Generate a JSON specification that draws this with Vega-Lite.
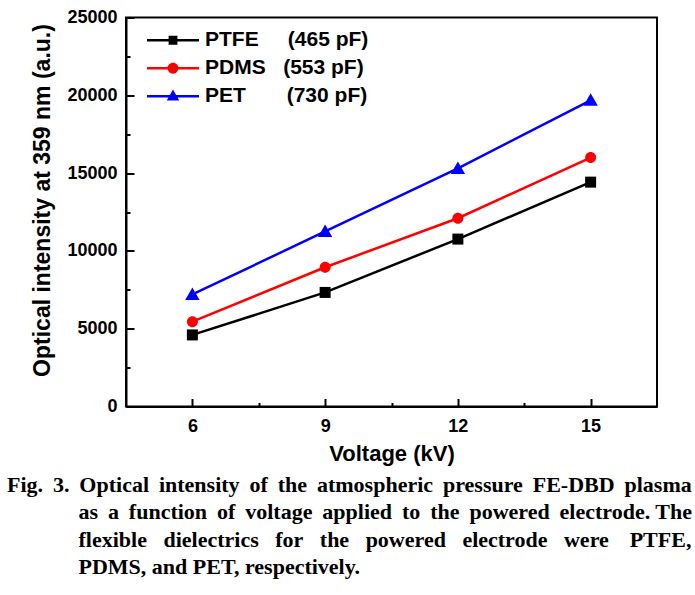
{
  "$schema": "https://vega.github.io/schema/vega-lite/v6.json",
  "width": 531,
  "height": 389,
  "autosize": {"type": "none"},
  "padding": {"left": 126, "top": 17.5, "right": 38, "bottom": 188.5},
  "background": "white",
  "config": {
    "view": {"stroke": "black", "strokeWidth": 2},
    "font": "Liberation Sans",
    "axis": {
      "grid": false,
      "domainColor": "black",
      "domainWidth": 2,
      "tickColor": "black",
      "tickWidth": 2,
      "labelFont": "Liberation Sans",
      "labelFontSize": 18,
      "labelFontWeight": "bold",
      "labelColor": "black",
      "titleFont": "Liberation Sans",
      "titleFontWeight": "bold",
      "titleColor": "black"
    },
    "legend": {
      "title": null,
      "orient": "none",
      "legendX": 21,
      "legendY": 9,
      "labelFont": "Liberation Sans",
      "labelFontSize": 21,
      "labelFontWeight": "bold",
      "labelColor": "black",
      "labelLimit": 400,
      "symbolSize": 2704,
      "symbolOpacity": 1,
      "symbolStrokeWidth": 0,
      "labelOffset": 6,
      "clipHeight": 27.5,
      "rowPadding": 0
    }
  },
  "title": {
    "text": [
      "Fig. \u20093. \u2009Optical \u2009intensity \u2009of \u2009the \u2009atmospheric \u2009pressure \u2009FE-DBD \u2009plasma",
      "\u200b\u00a0\u00a0\u00a0\u00a0\u00a0\u00a0\u00a0\u00a0\u00a0\u00a0\u00a0\u00a0\u00a0as \u2009a \u2009function \u2009of \u2009voltage \u2009applied \u2009to \u2009the \u2009powered \u2009electrode. The",
      "\u200b\u00a0\u00a0\u00a0\u00a0\u00a0\u00a0\u00a0\u00a0\u00a0\u00a0\u00a0\u00a0\u00a0flexible\u00a0\u00a0\u00a0dielectrics\u00a0\u00a0\u00a0for\u00a0\u00a0\u00a0the\u00a0\u00a0\u00a0powered\u00a0\u00a0\u00a0electrode\u00a0\u00a0\u00a0were\u00a0\u00a0\u00a0\u2009PTFE,",
      "\u200b\u00a0\u00a0\u00a0\u00a0\u00a0\u00a0\u00a0\u00a0\u00a0\u00a0\u00a0\u00a0\u00a0PDMS, and PET, respectively."
    ],
    "orient": "bottom",
    "anchor": "start",
    "frame": "group",
    "dx": -119,
    "offset": 10,
    "font": "Liberation Serif",
    "fontSize": 22,
    "fontWeight": "bold",
    "color": "black",
    "lineHeight": 27.5
  },
  "data": {
    "values": [
      {"series": "PTFE", "voltage": 6, "intensity": 4600},
      {"series": "PTFE", "voltage": 9, "intensity": 7330},
      {"series": "PTFE", "voltage": 12, "intensity": 10760},
      {"series": "PTFE", "voltage": 15, "intensity": 14420},
      {"series": "PDMS", "voltage": 6, "intensity": 5450},
      {"series": "PDMS", "voltage": 9, "intensity": 8950},
      {"series": "PDMS", "voltage": 12, "intensity": 12100},
      {"series": "PDMS", "voltage": 15, "intensity": 16000},
      {"series": "PET", "voltage": 6, "intensity": 7200},
      {"series": "PET", "voltage": 9, "intensity": 11250},
      {"series": "PET", "voltage": 12, "intensity": 15300},
      {"series": "PET", "voltage": 15, "intensity": 19680}
    ]
  },
  "encoding": {
    "x": {
      "field": "voltage",
      "type": "quantitative",
      "scale": {"domain": [4.5, 16.5], "nice": false, "zero": false},
      "axis": {
        "values": [6, 7.5, 9, 10.5, 12, 13.5, 15],
        "labelExpr": "datum.value % 3 === 0 ? datum.label : ''",
        "tickSize": {"condition": {"test": "datum.value % 3 === 0", "value": -8}, "value": -4},
        "labelPadding": 19,
        "title": "Voltage (kV)",
        "titleFontSize": 22,
        "titlePadding": 8
      }
    },
    "y": {
      "field": "intensity",
      "type": "quantitative",
      "scale": {"domain": [0, 25000], "nice": false},
      "axis": {
        "values": [0, 2500, 5000, 7500, 10000, 12500, 15000, 17500, 20000, 22500, 25000],
        "labelExpr": "datum.value % 5000 === 0 ? datum.value : ''",
        "tickSize": {"condition": {"test": "datum.value % 5000 === 0", "value": -8}, "value": -4},
        "labelPadding": 17,
        "title": "Optical intensity at 359 nm (a.u.)",
        "titleFontSize": 23,
        "titlePadding": 12,
        "titleY": 182.5
      }
    }
  },
  "layer": [
    {
      "mark": {"type": "line", "strokeWidth": 2.5},
      "encoding": {
        "color": {
          "field": "series",
          "type": "nominal",
          "scale": {"domain": ["PTFE", "PDMS", "PET"], "range": ["#000000", "#ff0000", "#0000ff"]},
          "legend": null
        }
      }
    },
    {
      "mark": {"type": "point", "filled": true, "opacity": 1, "size": 400},
      "encoding": {
        "color": {
          "field": "series",
          "type": "nominal",
          "legend": null
        },
        "shape": {
          "field": "series",
          "type": "nominal",
          "scale": {
            "domain": ["PTFE", "PDMS", "PET"],
            "range": [
              "M-0.55,-0.55H0.55V0.55H-0.55Z",
              "M-0.55,0A0.55,0.55 0 1,1 0.55,0A0.55,0.55 0 1,1 -0.55,0Z",
              "M0,-0.7L0.72,0.55H-0.72Z"
            ]
          },
          "legend": null
        }
      }
    },
    {
      "mark": {"type": "point", "filled": true, "opacity": 0, "color": {"expr": "scale('color', datum.value)"}},
      "encoding": {
        "shape": {
          "field": "series",
          "type": "nominal",
          "scale": {
            "domain": ["PTFE", "PDMS", "PET"],
            "range": [
              "M-1,-0.05H1V0.05H-1Z M-0.17,-0.17H0.17V0.17H-0.17Z",
              "M-1,-0.05H1V0.05H-1Z M-0.21,0A0.21,0.21 0 1,1 0.21,0A0.21,0.21 0 1,1 -0.21,0Z",
              "M-1,-0.05H1V0.05H-1Z M0,-0.26L0.24,0.16H-0.24Z"
            ]
          },
          "legend": {
            "labelExpr": "datum.label === 'PTFE' ? 'PTFE\u00a0\u00a0\u00a0\u00a0\u00a0(465 pF)' : datum.label === 'PDMS' ? 'PDMS\u00a0\u00a0\u00a0(553 pF)' : 'PET\u00a0\u00a0\u00a0\u00a0\u00a0\u00a0\u00a0(730 pF)'"
          }
        }
      }
    }
  ],
  "resolve": {"scale": {"shape": "independent"}}
}
